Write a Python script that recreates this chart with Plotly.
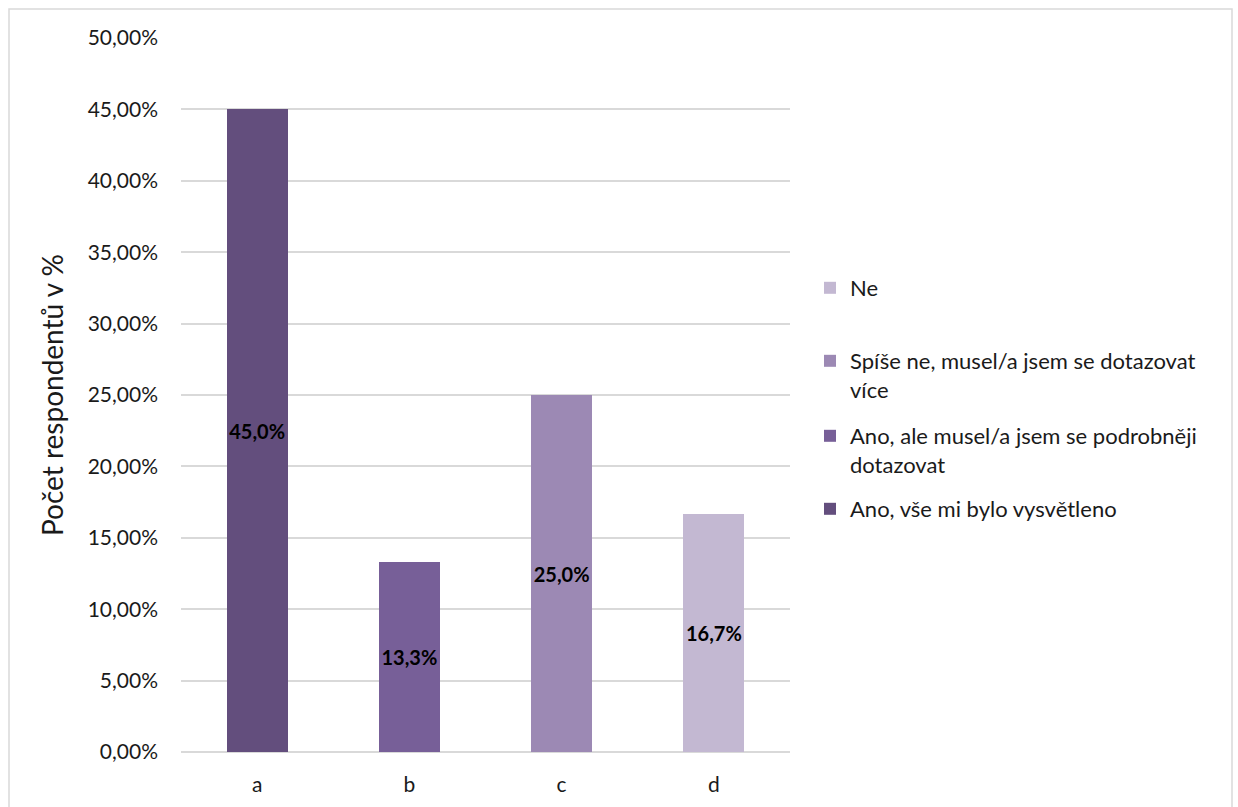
import plotly.graph_objects as go

categories = ["a", "b", "c", "d"]
series_names = [
    "Ano, vše mi bylo vysvětleno",
    "Ano, ale musel/a jsem se podrobněji<br>dotazovat",
    "Spíše ne, musel/a jsem se dotazovat<br>více",
    "Ne",
]
values = [0.45, 0.1333, 0.25, 0.1667]
colors = ["#634E7D", "#775F98", "#9C89B4", "#C3B8D2"]
tick_vals = [0, 0.05, 0.10, 0.15, 0.20, 0.25, 0.30, 0.35, 0.40, 0.45, 0.50]

FONT = "Lato"
TXT = "#1a1a1a"
W, H = 1238, 807
L, R, T, B = 181, 448, 38, 55
plot_h = H - T - B

legend_ids = ["legend", "legend2", "legend3", "legend4"]
# first-line centre of each legend entry in pixels (from top)
legend_px = [508, 435, 360, 287]

fig = go.Figure()
for i, (cat, name, val, col) in enumerate(zip(categories, series_names, values, colors)):
    fig.add_trace(go.Bar(
        x=[cat], y=[val], name=name,
        marker=dict(color=col, line=dict(width=0)),
        width=0.4,
        text=[val], texttemplate="%{y:.1%}",
        textposition="inside", insidetextanchor="middle",
        constraintext="none",
        textfont=dict(family=FONT, size=20, color="black", weight="bold"),
        textangle=0,
        legend=legend_ids[i],
    ))

layout_legends = {}
for lid, py in zip(legend_ids, legend_px):
    layout_legends[lid] = dict(
        x=(830 - 20 - L) / (W - L - R), xanchor="left",
        y=(H - B - (py - 20)) / plot_h, yanchor="top",
        font=dict(family=FONT, size=22, color=TXT),
        bgcolor="rgba(0,0,0,0)", borderwidth=0, valign="top",
        itemclick=False, tracegroupgap=0,
    )

fig.update_layout(
    width=W, height=H,
    margin=dict(l=L, r=R, t=T, b=B, autoexpand=False),
    paper_bgcolor="white", plot_bgcolor="white",
    separators=",.",
    barmode="stack",
    showlegend=True,
    font=dict(family=FONT, size=21, color=TXT),
    xaxis=dict(
        categoryorder="array", categoryarray=categories,
        showgrid=False, zeroline=False, showline=False,
        ticks="", ticklabelstandoff=18,
        tickfont=dict(family=FONT, size=21, color=TXT),
        fixedrange=True,
    ),
    yaxis=dict(
        range=[0, 0.5], tickvals=tick_vals, tickformat=".2%",
        showgrid=True, gridcolor="#D9D9D9", gridwidth=1.5,
        zeroline=True, zerolinecolor="#D9D9D9", zerolinewidth=1.5,
        showline=False, ticks="", ticklabelstandoff=22,
        tickfont=dict(family=FONT, size=21, color=TXT),
        title=dict(text="Počet respondentů v %", font=dict(family=FONT, size=28, color=TXT), standoff=15),
        fixedrange=True,
    ),
    shapes=[dict(
        type="rect", xref="paper", yref="paper",
        x0=(9 - L) / (W - L - R), x1=(1232 - L) / (W - L - R),
        y0=(H - B - 830) / plot_h, y1=(H - B - 9) / plot_h,
        line=dict(color="#D9D9D9", width=1.5), fillcolor="rgba(0,0,0,0)",
        layer="below",
    )],
    **layout_legends,
)

fig.write_html("out.html")
